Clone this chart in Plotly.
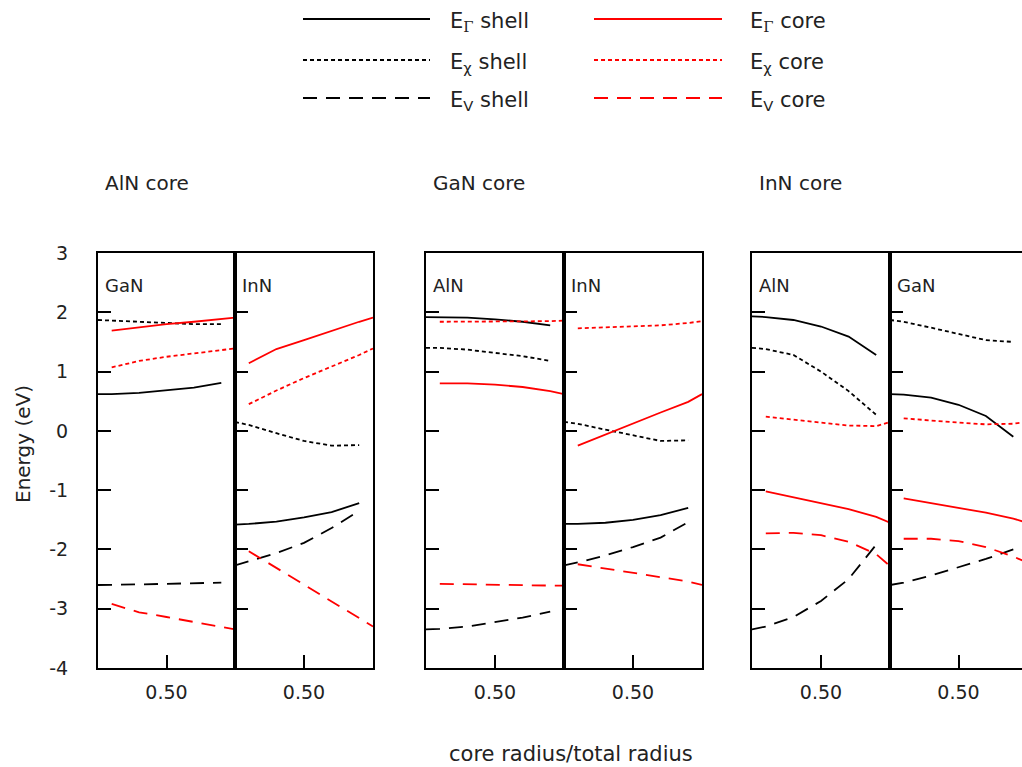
import plotly.graph_objects as go

W, H = 1022, 767
FONT = "DejaVu Sans"
RED = "#ff0000"
BLACK = "#000000"

# core radius / total radius sampling
X_SHELL = [0.0, 0.1, 0.3, 0.5, 0.7, 0.9]
X_CORE = [0.1, 0.3, 0.5, 0.7, 0.9, 1.0]

# ---- AlN core, GaN shell ----
alncore_gan_g_shell = [0.62, 0.62, 0.64, 0.68, 0.73, 0.81]
alncore_gan_x_shell = [1.87, 1.86, 1.83, 1.81, 1.80, 1.80]
alncore_gan_v_shell = [-2.60, -2.60, -2.59, -2.58, -2.57, -2.56]
alncore_gan_g_core = [1.69, 1.75, 1.80, 1.84, 1.88, 1.91]
alncore_gan_x_core = [1.07, 1.18, 1.25, 1.31, 1.36, 1.39]
alncore_gan_v_core = [-2.92, -3.06, -3.14, -3.22, -3.30, -3.35]

# ---- AlN core, InN shell ----
alncore_inn_g_shell = [-1.58, -1.57, -1.53, -1.46, -1.37, -1.22]
alncore_inn_x_shell = [0.15, 0.10, -0.04, -0.17, -0.25, -0.24]
alncore_inn_v_shell = [-2.27, -2.20, -2.06, -1.89, -1.64, -1.35]
alncore_inn_g_core = [1.14, 1.38, 1.53, 1.69, 1.84, 1.91]
alncore_inn_x_core = [0.45, 0.68, 0.89, 1.08, 1.28, 1.39]
alncore_inn_v_core = [-2.03, -2.31, -2.59, -2.88, -3.16, -3.30]

# ---- GaN core, AlN shell ----
gancore_aln_g_shell = [1.92, 1.92, 1.91, 1.88, 1.84, 1.78]
gancore_aln_x_shell = [1.40, 1.40, 1.37, 1.32, 1.26, 1.18]
gancore_aln_v_shell = [-3.35, -3.34, -3.30, -3.23, -3.15, -3.05]
gancore_aln_g_core = [0.80, 0.80, 0.78, 0.74, 0.67, 0.62]
gancore_aln_x_core = [1.84, 1.84, 1.84, 1.85, 1.85, 1.86]
gancore_aln_v_core = [-2.58, -2.59, -2.60, -2.60, -2.61, -2.61]

# ---- GaN core, InN shell ----
gancore_inn_g_shell = [-1.57, -1.57, -1.55, -1.50, -1.42, -1.30]
gancore_inn_x_shell = [0.15, 0.12, 0.02, -0.08, -0.17, -0.16]
gancore_inn_v_shell = [-2.27, -2.22, -2.10, -1.96, -1.80, -1.54]
gancore_inn_g_core = [-0.25, -0.06, 0.13, 0.31, 0.49, 0.62]
gancore_inn_x_core = [1.73, 1.75, 1.76, 1.78, 1.82, 1.85]
gancore_inn_v_core = [-2.25, -2.32, -2.39, -2.46, -2.54, -2.60]

# ---- InN core, AlN shell ----
inncore_aln_g_shell = [1.93, 1.92, 1.87, 1.76, 1.59, 1.28]
inncore_aln_x_shell = [1.40, 1.38, 1.28, 1.00, 0.67, 0.27]
inncore_aln_v_shell = [-3.35, -3.30, -3.14, -2.87, -2.50, -1.92]
inncore_aln_g_core = [-1.02, -1.12, -1.21, -1.32, -1.45, -1.55]
inncore_aln_x_core = [0.24, 0.19, 0.13, 0.09, 0.08, 0.15]
inncore_aln_v_core = [-1.73, -1.72, -1.76, -1.87, -2.08, -2.28]

# ---- InN core, GaN shell ----
inncore_gan_g_shell = [0.62, 0.61, 0.56, 0.44, 0.25, -0.10]
inncore_gan_x_shell = [1.87, 1.84, 1.74, 1.63, 1.53, 1.50]
inncore_gan_v_shell = [-2.60, -2.56, -2.44, -2.30, -2.16, -2.00]
inncore_gan_g_core = [-1.14, -1.22, -1.30, -1.38, -1.48, -1.55]
inncore_gan_x_core = [0.21, 0.17, 0.14, 0.11, 0.12, 0.15]
inncore_gan_v_core = [-1.82, -1.82, -1.86, -1.96, -2.12, -2.22]

GROUP_TITLES = ["AlN core", "GaN core", "InN core"]
SHELL_NAMES = ["GaN", "InN", "AlN", "InN", "AlN", "GaN"]
Y_TICKS = [3, 2, 1, 0, -1, -2, -3, -4]
Y_TICK_TEXT = ["3", "2", "1", "0", "-1", "-2", "-3", "-4"]
X_TICKS = [0.5]
X_TICK_TEXT = ["0.50"]

panels = [
    (alncore_gan_g_shell, alncore_gan_x_shell, alncore_gan_v_shell,
     alncore_gan_g_core, alncore_gan_x_core, alncore_gan_v_core),
    (alncore_inn_g_shell, alncore_inn_x_shell, alncore_inn_v_shell,
     alncore_inn_g_core, alncore_inn_x_core, alncore_inn_v_core),
    (gancore_aln_g_shell, gancore_aln_x_shell, gancore_aln_v_shell,
     gancore_aln_g_core, gancore_aln_x_core, gancore_aln_v_core),
    (gancore_inn_g_shell, gancore_inn_x_shell, gancore_inn_v_shell,
     gancore_inn_g_core, gancore_inn_x_core, gancore_inn_v_core),
    (inncore_aln_g_shell, inncore_aln_x_shell, inncore_aln_v_shell,
     inncore_aln_g_core, inncore_aln_x_core, inncore_aln_v_core),
    (inncore_gan_g_shell, inncore_gan_x_shell, inncore_gan_v_shell,
     inncore_gan_g_core, inncore_gan_x_core, inncore_gan_v_core),
]

# panel edges in pixels (left, right); the last panel runs off the page edge
PANEL_PX = [(98, 235), (235, 373), (426, 564), (564, 702), (752, 890), (890, 1027)]
TOP_PX, BOTTOM_PX = 253, 668

DOT = "4px,3px"
DASH = "14px,9px"
LW = 1.8

styles = [
    (BLACK, "solid"), (BLACK, DOT), (BLACK, DASH),
    (RED, "solid"), (RED, DOT), (RED, DASH),
]

fig = go.Figure()
layout = {}
for i, (series, (l, r)) in enumerate(zip(panels, PANEL_PX)):
    n = "" if i == 0 else str(i + 1)
    xa, ya = "x" + n, "y" + n
    for k, vals in enumerate(series):
        col, dash = styles[k]
        xs = X_SHELL if k < 3 else X_CORE
        fig.add_trace(go.Scatter(
            x=xs, y=vals, mode="lines", xaxis=xa, yaxis=ya,
            line=dict(color=col, width=LW, dash=dash),
            showlegend=False, hoverinfo="skip"))
    right = min(r, W)
    x_max = (right - l) / (r - l)
    layout["xaxis" + n] = dict(
        domain=[l / W, right / W], range=[0, x_max], anchor=ya,
        automargin=False,
        showline=True, linecolor=BLACK, linewidth=2, mirror=True,
        showgrid=False, zeroline=False,
        ticks="inside", ticklen=13, tickwidth=2, tickcolor=BLACK,
        tickvals=X_TICKS, ticktext=X_TICK_TEXT,
        tickfont=dict(family=FONT, size=19, color="#222"),
        ticklabelstandoff=6, fixedrange=True)
    layout["yaxis" + n] = dict(
        domain=[1 - BOTTOM_PX / H, 1 - TOP_PX / H], range=[-4, 3], anchor=xa,
        automargin=False,
        showline=True, linecolor=BLACK, linewidth=2, mirror=(r <= W),
        showgrid=False, zeroline=False,
        ticks="inside", ticklen=13, tickwidth=2, tickcolor=BLACK,
        tickvals=Y_TICKS, ticktext=Y_TICK_TEXT,
        showticklabels=(i == 0),
        tickfont=dict(family=FONT, size=19, color="#222"),
        ticklabelstandoff=24, fixedrange=True)

annotations = []
shapes = []


def px_x(v):
    return v / W


def px_y(v):
    return 1 - v / H


# group headings
for title, x0 in zip(GROUP_TITLES, [103, 431, 757]):
    annotations.append(dict(x=px_x(x0), y=px_y(183), xref="paper", yref="paper",
                            text=title, showarrow=False, xanchor="left", yanchor="middle",
                            font=dict(family=FONT, size=20, color="#222")))

# shell material inside each panel
for name, (l, r) in zip(SHELL_NAMES, PANEL_PX):
    annotations.append(dict(x=px_x(l + 5), y=px_y(285), xref="paper", yref="paper",
                            text=name, showarrow=False, xanchor="left", yanchor="middle",
                            font=dict(family=FONT, size=18, color="#222")))

# axis titles
annotations.append(dict(x=px_x(571), y=px_y(754), xref="paper", yref="paper",
                        text="core radius/total radius", showarrow=False,
                        xanchor="center", yanchor="middle",
                        font=dict(family=FONT, size=21, color="#222")))
annotations.append(dict(x=px_x(23), y=px_y(444), xref="paper", yref="paper",
                        text="Energy (eV)", showarrow=False, textangle=-90,
                        xanchor="center", yanchor="middle",
                        font=dict(family=FONT, size=20, color="#222")))

# key
GAMMA = "<span style='font-family:DejaVu Serif'>Γ</span>"
KEY_LABELS = [
    ("E<sub>%s</sub> shell" % GAMMA, BLACK, "solid"),
    ("E<sub>χ</sub> shell", BLACK, DOT),
    ("E<sub>V</sub> shell", BLACK, DASH),
    ("E<sub>%s</sub> core" % GAMMA, RED, "solid"),
    ("E<sub>χ</sub> core", RED, DOT),
    ("E<sub>V</sub> core", RED, DASH),
]
KEY_ROWS = [19, 60, 98]
KEY_COLS = [(303, 430, 448), (594, 722, 748)]
for j, (label, col, dash) in enumerate(KEY_LABELS):
    c0, c1, tx = KEY_COLS[j // 3]
    ry = KEY_ROWS[j % 3]
    shapes.append(dict(type="line", xref="paper", yref="paper",
                       x0=px_x(c0), x1=px_x(c1), y0=px_y(ry), y1=px_y(ry),
                       line=dict(color=col, width=2, dash=dash)))
    annotations.append(dict(x=px_x(tx), y=px_y(ry + 3), xref="paper", yref="paper",
                            text=label, showarrow=False, xanchor="left", yanchor="middle",
                            font=dict(family=FONT, size=21, color="#222")))

fig.update_layout(
    width=W, height=H,
    margin=dict(l=0, r=0, t=0, b=0, autoexpand=False),
    paper_bgcolor="white", plot_bgcolor="white",
    showlegend=False,
    annotations=annotations, shapes=shapes,
    **layout)

fig.write_html("out.html", config={"displayModeBar": False})
